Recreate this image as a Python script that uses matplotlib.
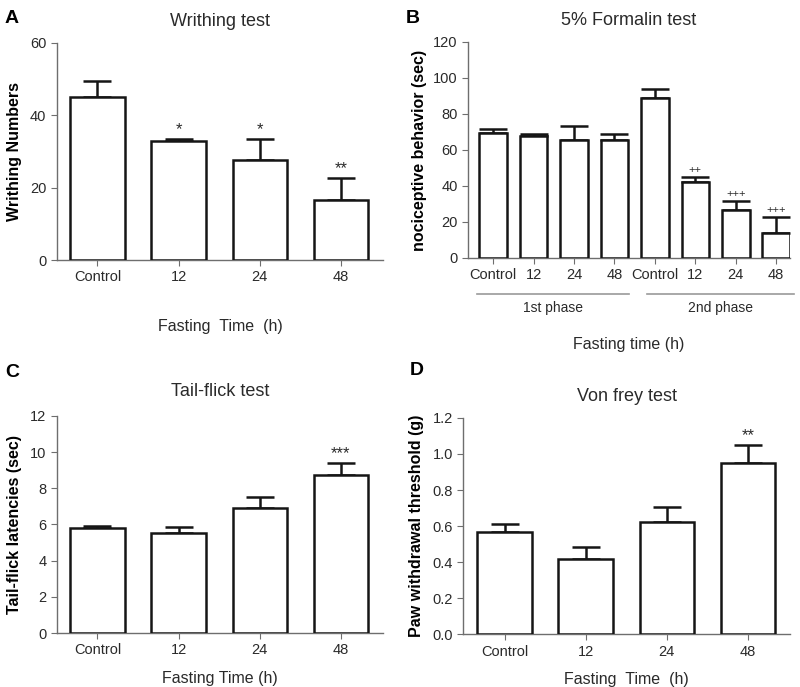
import matplotlib
matplotlib.use("Agg")
import matplotlib.pyplot as plt

plt.rcParams['font.family'] = ['Liberation Sans', 'DejaVu Sans']

# panel A - writhing
a_labels = ['Control', '12', '24', '48']
a_mean = [45.0, 33.0, 27.7, 16.5]
a_err = [4.5, 0.4, 5.8, 6.1]
a_star = ['', '*', '*', '**']

# panel B - formalin
b_labels = ['Control', '12', '24', '48', 'Control', '12', '24', '48']
b_mean = [69.3, 68.0, 65.7, 65.7, 88.7, 42.2, 26.7, 13.9]
b_err = [2.2, 1.0, 7.8, 3.3, 5.3, 2.6, 5.1, 8.9]
b_star = ['', '', '', '', '', '++', '+++', '+++']
b_phases = ['1st phase', '2nd phase']

# panel C - tail flick
c_labels = ['Control', '12', '24', '48']
c_mean = [5.82, 5.53, 6.9, 8.76]
c_err = [0.08, 0.32, 0.6, 0.62]
c_star = ['', '', '', '***']

# panel D - von frey
d_labels = ['Control', '12', '24', '48']
d_mean = [0.567, 0.415, 0.624, 0.95]
d_err = [0.043, 0.07, 0.081, 0.1]
d_star = ['', '', '', '**']

spine_c = '#6e6e6e'
txt_c = '#2a2a2a'


def bars(ax, labels, mean, err, star, ylim, yticks, width=0.67, star_fs=12):
    x = list(range(len(mean)))
    ax.bar(x, mean, width=width, color='white', edgecolor='#151515', linewidth=1.8, zorder=3)
    ax.errorbar(x, mean, yerr=[[0] * len(err), err], fmt='none', ecolor='#151515',
                elinewidth=1.8, capsize=width * 15, capthick=1.8, zorder=2)
    for xi, m, e, s in zip(x, mean, err, star):
        if s:
            ax.text(xi, m + e + ylim[1] * 0.01, s, ha='center', va='bottom', fontsize=star_fs, color=txt_c)
    ax.set_xticks(x)
    ax.set_xticklabels(labels, fontsize=10.5, color=txt_c)
    ax.set_ylim(*ylim)
    ax.set_yticks(yticks)
    ax.tick_params(axis='y', labelsize=10.5, labelcolor=txt_c, color=spine_c, length=4)
    ax.tick_params(axis='x', color=spine_c, length=4)
    for s in ['top', 'right']:
        ax.spines[s].set_visible(False)
    for s in ['left', 'bottom']:
        ax.spines[s].set_color(spine_c)
        ax.spines[s].set_linewidth(1.0)


fig = plt.figure(figsize=(8, 6.87), dpi=100)

axA = fig.add_axes([0.071, 0.6215, 0.408, 0.316])
bars(axA, a_labels, a_mean, a_err, a_star, (0, 60), [0, 20, 40, 60])
axA.set_xlim(-0.5, 3.52)
axA.set_yticklabels(['0', '20', '40', '60'])
axA.set_title('Writhing test', fontsize=13, color=txt_c, pad=12)
axA.set_ylabel('Writhing Numbers', fontsize=11.5, fontweight='bold', labelpad=6)
axA.set_xlabel('Fasting  Time  (h)', fontsize=11.5, color=txt_c, labelpad=25)

axB = fig.add_axes([0.585, 0.6245, 0.4025, 0.3145])
bars(axB, b_labels, b_mean, b_err, b_star, (0, 120), list(range(0, 121, 20)), width=0.68, star_fs=8)
axB.set_xlim(-0.62, 7.34)
axB.set_title('5% Formalin test', fontsize=13, color=txt_c, pad=12)
axB.set_ylabel('nociceptive behavior (sec)', fontsize=11.5, fontweight='bold', labelpad=4)
axB.set_xlabel('Fasting time (h)', fontsize=11.5, color=txt_c, labelpad=39)
# phase brackets under the ticks
for (x0, x1), name in zip([(-0.4, 3.35), (3.8, 7.45)], b_phases):
    axB.plot([x0, x1], [-0.166, -0.166], color='#9a9a9a', lw=1.2,
             transform=axB.get_xaxis_transform(), clip_on=False)
    axB.text((x0 + x1) / 2, -0.2, name, ha='center', va='top', fontsize=10,
             color=txt_c, transform=axB.get_xaxis_transform())

axC = fig.add_axes([0.071, 0.0786, 0.408, 0.316])
bars(axC, c_labels, c_mean, c_err, c_star, (0, 12), list(range(0, 13, 2)))
axC.set_xlim(-0.5, 3.52)
axC.set_title('Tail-flick test', fontsize=13, color=txt_c, pad=14)
axC.set_ylabel('Tail-flick latencies (sec)', fontsize=11.5, fontweight='bold', labelpad=6)
axC.set_xlabel('Fasting Time (h)', fontsize=11.5, color=txt_c, labelpad=10)

axD = fig.add_axes([0.579, 0.077, 0.4085, 0.3146])
bars(axD, d_labels, d_mean, d_err, d_star, (0, 1.2), [0, 0.2, 0.4, 0.6, 0.8, 1.0, 1.2])
axD.set_xlim(-0.51, 3.52)
axD.set_yticklabels(['0.0', '0.2', '0.4', '0.6', '0.8', '1.0', '1.2'])
axD.set_title('Von frey test', fontsize=13, color=txt_c, pad=12)
axD.set_ylabel('Paw withdrawal threshold (g)', fontsize=11.5, fontweight='bold', labelpad=6)
axD.set_xlabel('Fasting  Time  (h)', fontsize=11.5, color=txt_c, labelpad=10)

for lab, (x, y) in zip('ABCD', [(0.006, 0.985), (0.507, 0.985), (0.006, 0.47), (0.512, 0.473)]):
    fig.text(x, y, lab, fontsize=14, fontweight='bold', va='top', ha='left')

fig.savefig('out.png', dpi=100)
